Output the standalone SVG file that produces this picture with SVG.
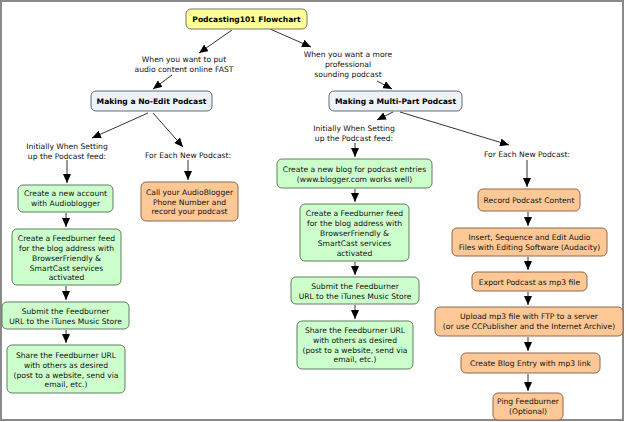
<svg xmlns="http://www.w3.org/2000/svg" width="626" height="422" viewBox="0 0 626 422">
<defs>
<marker id="ah" markerUnits="userSpaceOnUse" markerWidth="9" markerHeight="8" refX="9" refY="4" orient="auto">
<path d="M0,0 L9,4 L0,8 z" fill="#000"/>
</marker>
<style>
text{font-family:"DejaVu Sans",Verdana,sans-serif;font-size:7.6px;fill:#111;text-anchor:middle}
.b{font-weight:bold;fill:#000}
.n rect{stroke-width:1}
.y rect{fill:#ffff99;stroke:#777766}
.bl rect{fill:#edf3f7;stroke:#666a70}
.g rect{fill:#ccffcc;stroke:#5f7f5f}
.o rect{fill:#fdc896;stroke:#8a6a50}
#connectors line{stroke:#333;stroke-width:1;marker-end:url(#ah)}
</style>
</defs>
<rect x="1" y="1" width="622" height="419" fill="#fff" stroke="#8a8a8a" stroke-width="2"/>
<g id="connectors">
<line x1="232" y1="30" x2="199" y2="53"/>
<line x1="270" y1="29" x2="311" y2="47"/>
<line x1="172" y1="75" x2="153" y2="89"/>
<line x1="377" y1="81" x2="392" y2="89"/>
<line x1="148" y1="113" x2="92" y2="138"/>
<line x1="153" y1="113" x2="183" y2="147"/>
<line x1="67" y1="160" x2="67" y2="183"/>
<line x1="66" y1="213" x2="66" y2="227"/>
<line x1="66" y1="286" x2="66" y2="300"/>
<line x1="66" y1="330" x2="66" y2="343"/>
<line x1="188" y1="160" x2="188" y2="180"/>
<line x1="393" y1="112" x2="377" y2="120"/>
<line x1="400" y1="112" x2="509" y2="145"/>
<line x1="355" y1="143" x2="355" y2="157"/>
<line x1="355" y1="189" x2="355" y2="202"/>
<line x1="355" y1="262" x2="355" y2="275"/>
<line x1="355" y1="305" x2="355" y2="319"/>
<line x1="527" y1="160" x2="527" y2="187"/>
<line x1="528" y1="212" x2="528" y2="226"/>
<line x1="528" y1="257" x2="528" y2="270"/>
<line x1="528" y1="292" x2="528" y2="305"/>
<line x1="528" y1="337" x2="528" y2="351"/>
<line x1="528" y1="374" x2="528" y2="391"/>
</g>
<g id="title" class="n y"><rect x="186" y="9" width="121" height="20" rx="5"/><text class="b" x="246.5" y="22">Podcasting101 Flowchart</text></g>
<g id="label-fast"><text x="184" y="62">When you want to put</text><text x="184" y="72">audio content online FAST</text></g>
<g id="label-pro"><text x="348" y="57">When you want a more</text><text x="348" y="67">professional</text><text x="348" y="77">sounding podcast</text></g>
<g id="noedit" class="n bl"><rect x="91" y="91" width="121" height="20" rx="5"/><text class="b" x="151.5" y="104">Making a No-Edit Podcast</text></g>
<g id="multipart" class="n bl"><rect x="329" y="91" width="133" height="20" rx="5"/><text class="b" x="395.5" y="104">Making a Multi-Part Podcast</text></g>
<g id="label-init1"><text x="67" y="149">Initially When Setting</text><text x="67" y="158.5">up the Podcast feed:</text></g>
<g id="label-each1"><text x="188" y="158">For Each New Podcast:</text></g>
<g id="label-init2"><text x="354" y="131">Initially When Setting</text><text x="354" y="141">up the Podcast feed:</text></g>
<g id="label-each2"><text x="527" y="157">For Each New Podcast:</text></g>
<g id="g1" class="n g"><rect x="18" y="185" width="95" height="27" rx="5"/><text x="65.5" y="196">Create a new account</text><text x="65.5" y="205.5">with Audioblogger</text></g>
<g id="g2" class="n g"><rect x="12" y="229" width="109" height="56" rx="5"/><text x="66.5" y="241">Create a Feedburner feed</text><text x="66.5" y="251">for the blog address with</text><text x="66.5" y="261">BrowserFriendly &amp;</text><text x="66.5" y="270.5">SmartCast services</text><text x="66.5" y="280">activated</text></g>
<g id="g3" class="n g"><rect x="2" y="302" width="127" height="27" rx="5"/><text x="65.5" y="314">Submit the Feedburner</text><text x="65.5" y="324">URL to the iTunes Music Store</text></g>
<g id="g4" class="n g"><rect x="7" y="345" width="118" height="48" rx="5"/><text x="66" y="358">Share the Feedburner URL</text><text x="66" y="368">with others as desired</text><text x="66" y="377.5">(post to a website, send via</text><text x="66" y="387">email, etc.)</text></g>
<g id="o1" class="n o"><rect x="141" y="182" width="97" height="39" rx="5"/><text x="189.5" y="195">Call your AudioBlogger</text><text x="189.5" y="204.5">Phone Number and</text><text x="189.5" y="214">record your podcast</text></g>
<g id="m1" class="n g"><rect x="277" y="159" width="155" height="29" rx="5"/><text x="354.5" y="172">Create a new blog for podcast entries</text><text x="354.5" y="182">(www.blogger.com works well)</text></g>
<g id="m2" class="n g"><rect x="300" y="204" width="109" height="57" rx="5"/><text x="354.5" y="216">Create a Feedburner feed</text><text x="354.5" y="226">for the blog address with</text><text x="354.5" y="236">BrowserFriendly &amp;</text><text x="354.5" y="246">SmartCast services</text><text x="354.5" y="256">activated</text></g>
<g id="m3" class="n g"><rect x="291" y="277" width="128" height="27" rx="5"/><text x="355" y="289">Submit the Feedburner</text><text x="355" y="299">URL to the iTunes Music Store</text></g>
<g id="m4" class="n g"><rect x="297" y="321" width="116" height="48" rx="5"/><text x="355" y="333">Share the Feedburner URL</text><text x="355" y="343">with others as desired</text><text x="355" y="353">(post to a website, send via</text><text x="355" y="362">email, etc.)</text></g>
<g id="r1" class="n o"><rect x="478" y="189" width="102" height="22" rx="5"/><text x="529" y="203">Record Podcast Content</text></g>
<g id="r2" class="n o"><rect x="452" y="228" width="155" height="28" rx="5"/><text x="529.5" y="240">Insert, Sequence and Edit Audio</text><text x="529.5" y="250">Files with Editing Software (Audacity)</text></g>
<g id="r3" class="n o"><rect x="472" y="272" width="115" height="19" rx="5"/><text x="529.5" y="284.5">Export Podcast as mp3 file</text></g>
<g id="r4" class="n o"><rect x="435" y="307" width="188" height="29" rx="5"/><text x="529" y="319">Upload mp3 file with FTP to a server</text><text x="529" y="329">(or use CCPublisher and the Internet Archive)</text></g>
<g id="r5" class="n o"><rect x="461" y="353" width="139" height="20" rx="5"/><text x="530.5" y="365.5">Create Blog Entry with mp3 link</text></g>
<g id="r6" class="n o"><rect x="493" y="393" width="70" height="27" rx="5"/><text x="528" y="404">Ping Feedburner</text><text x="528" y="414">(Optional)</text></g>
</svg>
